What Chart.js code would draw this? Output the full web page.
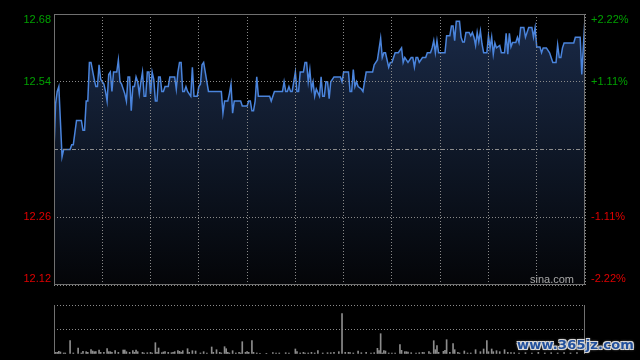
<!DOCTYPE html>
<html>
<head>
<meta charset="utf-8">
<script src="https://cdn.jsdelivr.net/npm/chart.js@4.4.1/dist/chart.umd.min.js"></script>
<style>
  html, body { margin: 0; padding: 0; background: #000; }
  #wrap { position: relative; width: 640px; height: 360px; overflow: hidden; background: #000; }
  #priceBox { position: absolute; left: 0; top: 0; width: 640px; height: 290px; }
  #volBox { position: absolute; left: 0; top: 290px; width: 640px; height: 70px; }
  #mark {
    position: absolute; left: 517px; top: 337px;
    font: bold 13px "DejaVu Sans", sans-serif; line-height: 16px;
    color: #22509c; letter-spacing: 0.2px;
    text-shadow: 1px 1px 0 #d8d8d8, -1px -1px 0 #d8d8d8, 1px -1px 0 #d8d8d8, -1px 1px 0 #d8d8d8, 0 0 3px #fff;
  }
</style>
</head>
<body>
<div id="wrap">
  <div id="priceBox"><canvas id="priceChart"></canvas></div>
  <div id="volBox"><canvas id="volChart"></canvas></div>
  <div id="mark">www.365jz.com</div>
</div>
<script>
// 昨收与坐标刻度
const prevClose = 12.40;
const priceTicks = [12.68, 12.54, 12.40, 12.26, 12.12];
const pctLabels = ['+2.22%', '+1.11%', '', '-1.11%', '-2.22%'];
const timeTicks = [0, 30, 60, 90, 120, 150, 180, 210, 240, 270, 300, 330]; // 分钟, 09:30 起
const volTicks = [0, 245, 490];

// 分时价格 (开盘后分钟数, 价格)
const minutes = [
  0, 1, 2, 3, 5, 6, 10, 11, 12, 14, 17, 18, 19, 20, 21, 22, 23, 25, 26, 27,
  28, 29, 30, 31, 32, 33, 34, 35, 36, 37, 39, 40, 41, 42, 44, 45, 46, 47, 48, 49,
  50, 51, 52, 53, 54, 55, 56, 57, 58, 59, 60, 61, 62, 63, 64, 65, 66, 67, 68, 69,
  71, 72, 75, 76, 77, 78, 79, 80, 81, 82, 83, 84, 85, 86, 87, 89, 90, 91, 92, 93,
  94, 96, 104, 105, 106, 108, 109, 110, 111, 112, 116, 117, 120, 121, 122, 123, 124, 125, 126, 127,
  134, 135, 137, 142, 143, 144, 145, 146, 147, 148, 149, 150, 151, 152, 153, 155, 156, 157, 158, 159,
  160, 161, 162, 163, 165, 166, 167, 168, 169, 170, 171, 172, 174, 178, 179, 180, 183, 184, 185, 186,
  187, 188, 189, 191, 192, 194, 198, 199, 200, 201, 203, 204, 205, 206, 208, 209, 210, 212, 214, 216,
  217, 218, 220, 222, 223, 224, 225, 226, 227, 229, 231, 232, 234, 235, 236, 237, 238, 239, 243, 244,
  246, 247, 248, 249, 250, 252, 253, 254, 255, 256, 258, 259, 260, 261, 262, 263, 264, 265, 266, 267,
  269, 270, 271, 272, 273, 274, 275, 277, 278, 280, 281, 282, 283, 284, 285, 287, 288, 289, 290, 292,
  293, 295, 297, 298, 299, 300, 302, 303, 304, 306, 308, 310, 312, 313, 314, 315, 316, 317, 323, 324,
  327, 328, 330
];
const prices = [
  12.40, 12.495, 12.52, 12.53, 12.385, 12.40, 12.40, 12.41, 12.41, 12.46, 12.46, 12.44, 12.44, 12.50, 12.50, 12.58, 12.58, 12.545, 12.53, 12.53,
  12.575, 12.545, 12.54, 12.535, 12.52, 12.50, 12.555, 12.56, 12.52, 12.56, 12.56, 12.585, 12.54, 12.535, 12.515, 12.50, 12.55, 12.55, 12.48, 12.53,
  12.53, 12.55, 12.54, 12.515, 12.54, 12.56, 12.51, 12.51, 12.56, 12.56, 12.515, 12.56, 12.545, 12.50, 12.50, 12.55, 12.55, 12.52, 12.52, 12.53,
  12.53, 12.55, 12.55, 12.525, 12.56, 12.58, 12.58, 12.52, 12.52, 12.53, 12.52, 12.515, 12.51, 12.57, 12.51, 12.51, 12.53, 12.535, 12.575, 12.58,
  12.56, 12.52, 12.52, 12.475, 12.50, 12.50, 12.515, 12.535, 12.475, 12.50, 12.50, 12.49, 12.49, 12.50, 12.50, 12.48, 12.48, 12.50, 12.55, 12.51,
  12.51, 12.50, 12.52, 12.52, 12.54, 12.52, 12.52, 12.53, 12.52, 12.52, 12.54, 12.56, 12.52, 12.52, 12.56, 12.56, 12.58, 12.58, 12.54, 12.565,
  12.525, 12.54, 12.51, 12.525, 12.51, 12.55, 12.51, 12.51, 12.54, 12.54, 12.505, 12.54, 12.55, 12.55, 12.54, 12.56, 12.56, 12.52, 12.52, 12.565,
  12.53, 12.54, 12.53, 12.525, 12.52, 12.56, 12.56, 12.575, 12.58, 12.585, 12.63, 12.59, 12.60, 12.60, 12.57, 12.58, 12.58, 12.60, 12.60, 12.61,
  12.58, 12.59, 12.58, 12.59, 12.59, 12.57, 12.59, 12.59, 12.58, 12.59, 12.59, 12.60, 12.60, 12.61, 12.625, 12.60, 12.625, 12.60, 12.60, 12.635,
  12.635, 12.655, 12.655, 12.625, 12.665, 12.665, 12.632, 12.622, 12.622, 12.642, 12.642, 12.635, 12.642, 12.632, 12.615, 12.642, 12.623, 12.645, 12.618, 12.60,
  12.60, 12.635, 12.61, 12.632, 12.597, 12.62, 12.61, 12.615, 12.60, 12.60, 12.64, 12.597, 12.64, 12.612, 12.621, 12.621, 12.632, 12.621, 12.652, 12.652,
  12.632, 12.652, 12.652, 12.632, 12.652, 12.612, 12.612, 12.60, 12.61, 12.61, 12.60, 12.58, 12.58, 12.616, 12.59, 12.59, 12.61, 12.62, 12.62, 12.632,
  12.632, 12.555, 12.672
];

// 成交量 (分钟, 量)
const volMinutes = [
  1, 2, 3, 4, 6, 7, 10, 12, 15, 17, 18, 20, 21, 23, 24, 25, 26, 28, 29, 31,
  33, 34, 35, 36, 38, 40, 43, 44, 45, 47, 49, 50, 51, 52, 55, 56, 58, 60, 61, 63,
  64, 65, 67, 68, 69, 71, 73, 74, 75, 77, 78, 79, 80, 83, 84, 86, 88, 91, 93, 95,
  98, 99, 101, 103, 104, 106, 107, 108, 109, 111, 113, 115, 116, 117, 119, 120, 121, 123, 124, 126,
  128, 132, 136, 138, 140, 144, 146, 150, 151, 153, 155, 156, 158, 160, 162, 164, 167, 170, 172, 174,
  177, 179, 181, 183, 184, 186, 189, 191, 194, 197, 199, 201, 202, 203, 204, 205, 206, 208, 210, 212,
  215, 216, 218, 219, 220, 222, 225, 227, 229, 230, 233, 234, 236, 237, 238, 239, 242, 243, 244, 246,
  248, 249, 251, 252, 255, 257, 259, 262, 265, 267, 269, 270, 272, 273, 275, 277, 280, 282, 284, 286,
  289, 293, 297, 301, 305, 309, 313, 317, 321, 325, 330
];
const volumes = [
  17, 17, 27, 20, 10, 10, 133, 10, 60, 10, 27, 23, 17, 43, 30, 23, 23, 40, 17, 17,
  53, 23, 23, 17, 33, 17, 40, 40, 23, 17, 33, 17, 40, 23, 17, 10, 13, 17, 10, 113,
  17, 60, 13, 20, 23, 17, 13, 17, 23, 33, 27, 17, 33, 53, 17, 33, 30, 10, 23, 10,
  70, 17, 43, 17, 10, 73, 53, 17, 10, 33, 10, 17, 10, 123, 17, 23, 17, 133, 17, 10,
  7, 7, 13, 10, 10, 13, 10, 50, 23, 10, 17, 10, 10, 17, 10, 33, 10, 13, 13, 17,
  23, 403, 17, 17, 13, 10, 30, 13, 17, 10, 13, 57, 33, 203, 10, 33, 30, 10, 10, 10,
  93, 37, 23, 23, 20, 13, 10, 13, 17, 13, 23, 10, 133, 43, 83, 17, 27, 37, 143, 17,
  103, 43, 17, 10, 30, 10, 10, 43, 23, 50, 133, 23, 50, 23, 33, 23, 43, 17, 13, 13,
  10, 13, 10, 17, 10, 13, 10, 13, 10, 13, 200
];

const FONT = '"Liberation Sans", Arial, sans-serif';

// 价格区: 边框、昨收线、左右刻度、水印
const priceDecor = {
  id: 'priceDecor',
  afterDatasetsDraw(chart) {
    const { ctx, chartArea: a, scales: { y } } = chart;
    const py = Math.round(y.getPixelForValue(prevClose)) + 0.5;
    ctx.save();
    ctx.strokeStyle = '#8c8c8c';
    ctx.lineWidth = 1;
    ctx.setLineDash([4, 2, 1, 2]);
    ctx.beginPath();
    ctx.moveTo(a.left, py);
    ctx.lineTo(a.right, py);
    ctx.stroke();
    ctx.restore();
  },
  afterDraw(chart) {
    const { ctx, chartArea: a, scales: { y } } = chart;
    ctx.save();
    ctx.strokeStyle = '#707070';
    ctx.lineWidth = 1;
    ctx.strokeRect(a.left + 0.5, a.top + 0.5, a.right - a.left - 1, a.bottom - a.top - 1);

    ctx.font = '11px ' + FONT;
    ctx.textBaseline = 'middle';
    priceTicks.forEach((p, i) => {
      if (p === prevClose) return;
      let ty = y.getPixelForValue(p);
      ty = Math.min(Math.max(ty, a.top + 6), a.bottom - 6);
      ctx.fillStyle = p > prevClose ? '#00a000' : '#e00000';
      ctx.textAlign = 'right';
      ctx.fillText(p.toFixed(2), a.left - 3, ty);
      ctx.textAlign = 'left';
      ctx.fillText(pctLabels[i], a.right + 6, ty);
    });

    ctx.fillStyle = '#a8a8a8';
    ctx.textAlign = 'right';
    ctx.textBaseline = 'alphabetic';
    ctx.fillText('sina.com', a.right - 11, a.bottom - 2);
    ctx.restore();
  }
};

const priceChart = new Chart(document.getElementById('priceChart'), {
  type: 'line',
  data: {
    datasets: [{
      data: minutes.map((m, i) => ({ x: m, y: prices[i] })),
      borderColor: '#4a84dc',
      borderWidth: 1.5,
      pointRadius: 0,
      tension: 0,
      fill: 'start',
      backgroundColor: (context) => {
        const { chart } = context;
        const a = chart.chartArea;
        if (!a) return 'rgba(0,0,0,0)';
        const g = chart.ctx.createLinearGradient(0, a.top, 0, a.bottom);
        g.addColorStop(0, '#1a2a48');
        g.addColorStop(0.5, '#0f1828');
        g.addColorStop(1, '#040508');
        return g;
      }
    }]
  },
  options: {
    responsive: true,
    maintainAspectRatio: false,
    animation: false,
    layout: { padding: { left: 54, right: 55, top: 14, bottom: 5 } },
    plugins: { legend: { display: false }, tooltip: { enabled: false } },
    scales: {
      x: {
        type: 'linear', min: 0, max: 330,
        afterBuildTicks: (s) => { s.ticks = timeTicks.map(v => ({ value: v })); },
        ticks: { display: false },
        grid: { color: '#8a8a8a', lineWidth: 1, drawTicks: false, z: 1 },
        border: { display: false, dash: [1, 2] }
      },
      y: {
        min: 12.12, max: 12.68,
        afterBuildTicks: (s) => { s.ticks = priceTicks.map(v => ({ value: v })); },
        ticks: { display: false },
        grid: {
          color: (c) => (c.tick && c.tick.value === prevClose) ? 'rgba(0,0,0,0)' : '#8a8a8a',
          lineWidth: 1, drawTicks: false, z: 1
        },
        border: { display: false, dash: [1, 2] }
      }
    }
  },
  plugins: [priceDecor]
});

// 成交量区: 左右边框
const volDecor = {
  id: 'volDecor',
  afterDraw(chart) {
    const { ctx, chartArea: a } = chart;
    ctx.save();
    ctx.strokeStyle = '#707070';
    ctx.lineWidth = 1;
    ctx.beginPath();
    ctx.moveTo(a.left + 0.5, a.top);
    ctx.lineTo(a.left + 0.5, a.bottom);
    ctx.moveTo(a.right - 0.5, a.top);
    ctx.lineTo(a.right - 0.5, a.bottom);
    ctx.stroke();
    ctx.restore();
  }
};

const volChart = new Chart(document.getElementById('volChart'), {
  type: 'bar',
  data: {
    datasets: [{
      data: volMinutes.map((m, i) => ({ x: m, y: volumes[i] })),
      backgroundColor: '#8c8c8c',
      barThickness: 1
    }]
  },
  options: {
    responsive: true,
    maintainAspectRatio: false,
    animation: false,
    layout: { padding: { left: 54, right: 55, top: 15, bottom: 6 } },
    plugins: { legend: { display: false }, tooltip: { enabled: false } },
    scales: {
      x: {
        type: 'linear', min: 0, max: 330, offset: false, display: false
      },
      y: {
        min: 0, max: 490,
        afterBuildTicks: (s) => { s.ticks = volTicks.map(v => ({ value: v })); },
        ticks: { display: false },
        grid: {
          color: (c) => (c.tick && c.tick.value === 0) ? 'rgba(0,0,0,0)' : '#8a8a8a',
          lineWidth: 1, drawTicks: false
        },
        border: { display: false, dash: [1, 2] }
      }
    }
  },
  plugins: [volDecor]
});
</script>
</body>
</html>
